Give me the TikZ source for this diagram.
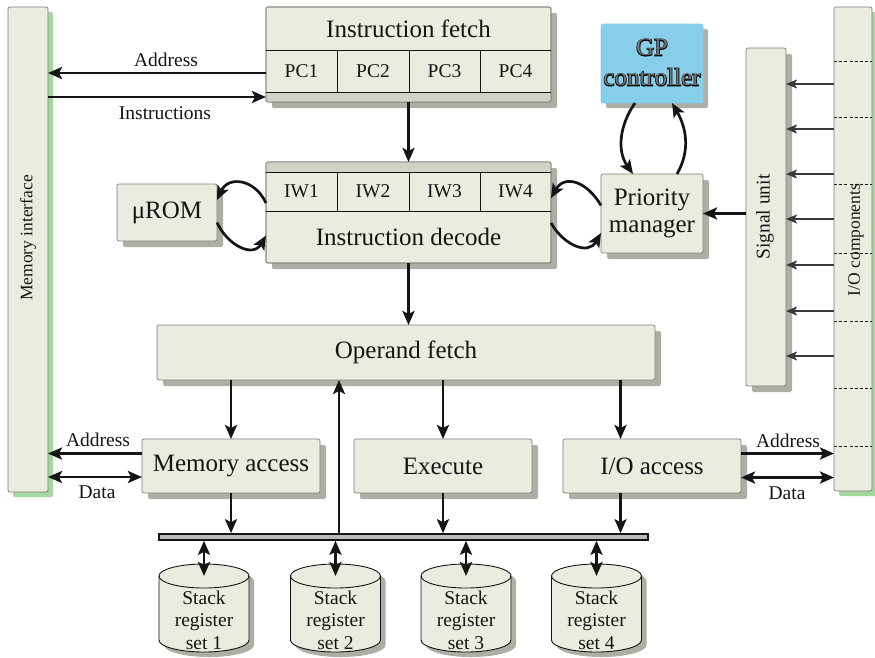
\documentclass[tikz,border=0pt]{standalone}
\usepackage{fontspec}
\setmainfont{Liberation Serif}
\newfontfamily\gpfont[FakeBold=5]{Liberation Serif}
\usetikzlibrary{arrows.meta,shadows,calc}

\definecolor{boxfill}{HTML}{EBEBDF}
\definecolor{boxline}{HTML}{7E7E76}
\definecolor{shadowgrey}{HTML}{AEAEA5}
\definecolor{stripfill}{HTML}{D2D2C8}
\definecolor{gpblue}{HTML}{87CEEB}
\definecolor{edgegreen}{HTML}{A4D89D}
\definecolor{ink}{HTML}{151515}
\definecolor{rulegrey}{HTML}{3A3A3A}

\newcommand\sizeL{\fontsize{25}{28}\selectfont}
\newcommand\sizeM{\fontsize{19.5}{22.5}\selectfont}
\newcommand\sizeS{\fontsize{17.5}{20}\selectfont}

\tikzset{
  panel/.style={draw=boxline, fill=boxfill, line width=0.7pt, rounded corners=2pt,
                inner sep=0pt, outer sep=0pt, text=ink},
  greyshadow/.style={drop shadow={shadow xshift=#1, shadow yshift=-#1, fill=shadowgrey, opacity=1}},
  greyshadow/.default=6pt,
  greenshadow/.style={drop shadow={shadow xshift=5pt, shadow yshift=-5pt, fill=edgegreen, opacity=1}},
  unit/.style={panel, greyshadow, font=\sizeL},
  lbl/.style={text=ink, font=\sizeM, inner sep=0pt},
  cell/.style={draw=ink, line width=1pt},
  arr/.style={draw=ink, line width=2.7pt, -{Stealth[length=14pt, width=12pt, inset=3pt]}},
  dblarr/.style={draw=ink, line width=2.7pt,
    {Stealth[length=14pt, width=12pt, inset=3pt]}-{Stealth[length=14pt, width=12pt, inset=3pt]}},
  sigarr/.style={draw=rulegrey, line width=1.5pt, -{Stealth[length=11pt, width=9pt, inset=2.5pt]}},
  pics/regstack/.style={code={
    \fill[shadowgrey, shift={(5,-5)}] (-45,0) -- (-45,-64)
      arc[start angle=180, end angle=360, x radius=45, y radius=12] -- (45,0)
      arc[start angle=0, end angle=180, x radius=45, y radius=12] -- cycle;
    \filldraw[fill=boxfill, draw=ink, line width=0.9pt] (-45,0) -- (-45,-64)
      arc[start angle=180, end angle=360, x radius=45, y radius=12] -- (45,0)
      arc[start angle=0, end angle=180, x radius=45, y radius=12] -- cycle;
    \draw[ink, line width=0.9pt] (-45,0) arc[start angle=180, end angle=360, x radius=45, y radius=12];
  }},
}

\begin{document}
\begin{tikzpicture}[x=1pt, y=1pt]
\useasboundingbox (0,0) rectangle (875,-657);

% ---------- side panels ----------
\node[panel, greenshadow, minimum width=40pt, minimum height=485pt] (memif) at (28,-249.5) {};
\node[lbl, font=\sizeS, rotate=90] (memlbl) at (28,-238) {Memory interface};

\node[panel, greenshadow, minimum width=38pt, minimum height=484pt] (ioc) at (853,-249) {};
\foreach \yy in {61,117,184,253,321,388,446}
  \draw[ink, line width=0.8pt, dash pattern=on 3pt off 2.2pt] (ioc.west |- 0,-\yy) -- (ioc.east |- 0,-\yy);
\node[lbl, font=\sizeS, rotate=90] (iolbl) at (856,-240) {I/O components};

\node[panel, greyshadow, minimum width=40pt, minimum height=338pt] (sig) at (766,-217) {};
\node[lbl, rotate=90] (siglbl) at (765,-217) {Signal unit};

% ---------- instruction fetch ----------
\node[unit, minimum width=285pt, minimum height=95pt] (ifetch) at (408.5,-54.5) {};
\begin{scope}
  \clip[rounded corners=2pt] (ifetch.south west) rectangle (ifetch.north east);
  \fill[stripfill] (ifetch.south west) rectangle ([yshift=10pt]ifetch.south east);
\end{scope}
\draw[boxline, line width=0.7pt, rounded corners=2pt] (ifetch.south west) rectangle (ifetch.north east);
\draw[cell] ([yshift=-43pt]ifetch.north west) -- ([yshift=-43pt]ifetch.north east);
\draw[cell] ([yshift=10pt]ifetch.south west) -- ([yshift=10pt]ifetch.south east);
\foreach \xx in {337,409,480} \draw[cell] (\xx,-50) -- (\xx,-92);
\node[lbl, font=\sizeL] (iftitle) at (408.5,-29) {Instruction fetch};
\node[lbl] (pc1) at (301.5,-71.5) {PC1};
\node[lbl] (pc2) at (373,-71.5) {PC2};
\node[lbl] (pc3) at (444.5,-71.5) {PC3};
\node[lbl] (pc4) at (515.5,-71.5) {PC4};

% ---------- instruction decode ----------
\node[unit, minimum width=285pt, minimum height=101pt] (idecode) at (408.5,-212.5) {};
\begin{scope}
  \clip[rounded corners=2pt] (idecode.south west) rectangle (idecode.north east);
  \fill[stripfill] (idecode.north west) rectangle ([yshift=-10pt]idecode.north east);
\end{scope}
\draw[boxline, line width=0.7pt, rounded corners=2pt] (idecode.south west) rectangle (idecode.north east);
\draw[cell] ([yshift=-10pt]idecode.north west) -- ([yshift=-10pt]idecode.north east);
\draw[cell] ([yshift=-49pt]idecode.north west) -- ([yshift=-49pt]idecode.north east);
\foreach \xx in {337,409,480} \draw[cell] (\xx,-172) -- (\xx,-211);
\node[lbl] (iw1) at (301.5,-191.5) {IW1};
\node[lbl] (iw2) at (373,-191.5) {IW2};
\node[lbl] (iw3) at (444.5,-191.5) {IW3};
\node[lbl] (iw4) at (515.5,-191.5) {IW4};
\node[lbl, font=\sizeL] (idtitle) at (408.5,-237) {Instruction decode};

% ---------- control units ----------
\node[unit, minimum width=100pt, minimum height=57pt] (urom) at (167,-212.5) {μROM};
\node[unit, minimum width=102pt, minimum height=79pt, align=center,
      font=\fontsize{25}{27.5}\selectfont] (pm) at (652,-213.5) {Priority\\manager};
\node[panel, greyshadow=5pt, fill=gpblue, draw=gpblue, minimum width=102pt, minimum height=79pt] (gp) at (652,-63.5) {};
\node[align=center, text=black, inner sep=0pt, font=\gpfont\fontsize{25}{30}\selectfont] (gptxt) at (652,-62.5) {GP\\controller};
\node[align=center, text=black!55, inner sep=0pt, font=\fontsize{25}{30}\selectfont] (gptxtin) at (652,-62.5) {GP\\controller};

% ---------- execution stages ----------
\node[unit, minimum width=498pt, minimum height=55pt] (opf) at (406,-352.5) {Operand fetch};
\node[unit, minimum width=178pt, minimum height=54pt] (mem) at (231,-466) {Memory access};
\node[unit, minimum width=178pt, minimum height=54pt] (exe) at (443,-466) {Execute};
\node[unit, minimum width=178pt, minimum height=54pt] (ioa) at (652,-466) {I/O access};

% ---------- internal bus and stack register sets ----------
\node[draw=ink, fill=gray!55, line width=1.6pt, minimum width=489pt, minimum height=6pt, inner sep=0pt] (bus) at (403.5,-537) {};
\foreach \i/\cx in {1/204, 2/335.5, 3/466, 4/596.5} {
  \pic (stk\i) at (\cx,-576) {regstack};
  \coordinate (s\i top) at (\cx,-576);
  \node[lbl, align=center] (s\i txt) at (\cx,-620) {Stack\\register\\set \i};
  \draw[dblarr] (bus.south -| s\i top) -- (s\i top);
}

% ---------- pipeline connectors ----------
\draw[arr] (ifetch.south) -- (idecode.north);
\draw[arr] (idecode.south) -- (idecode.south |- opf.north);

\coordinate (ioax) at (620.5,0);
\coordinate (upx) at (339,0);
\draw[arr] (opf.south -| mem.north) -- (mem.north);
\draw[arr] (opf.south -| exe.north) -- (exe.north);
\draw[arr] (opf.south -| ioax) -- (ioa.north -| ioax);
\draw[arr] (mem.south) -- (mem.south |- bus.north);
\draw[arr] (exe.south) -- (exe.south |- bus.north);
\draw[arr] (ioa.south -| ioax) -- (bus.north -| ioax);
\draw[arr] (bus.north -| upx) -- (opf.south -| upx);

% ---------- memory interface traffic ----------
\coordinate (fa) at ([yshift=-18.5pt]ifetch.west);
\coordinate (fi) at ([yshift=-42.5pt]ifetch.west);
\draw[arr] (fa) -- (fa -| memif.east);
\draw[arr] (fi -| memif.east) -- (fi);
\node[lbl] (faL) at (166,-60) {Address};
\node[lbl] (fiL) at (165,-113) {Instructions};

\coordinate (ma) at ([yshift=12.5pt]mem.west);
\coordinate (md) at ([yshift=-11pt]mem.west);
\draw[arr] (ma) -- (ma -| memif.east);
\draw[dblarr] (md) -- (md -| memif.east);
\node[lbl] (maL) at (98,-440) {Address};
\node[lbl] (mdL) at (97,-492) {Data};

\coordinate (ia) at ([yshift=12.5pt]ioa.east);
\coordinate (id) at ([yshift=-11.5pt]ioa.east);
\draw[arr] (ia) -- (ia -| ioc.west);
\draw[dblarr] (id) -- (id -| ioc.west);
\node[lbl] (iaL) at (788,-441) {Address};
\node[lbl] (idL) at (787,-493) {Data};

% ---------- signal unit and priority handling ----------
\foreach \yy in {84,129,174,219,265,311,356}
  \draw[sigarr] (ioc.west |- 0,-\yy) -- (sig.east |- 0,-\yy);
\draw[arr] (sig.west |- pm.east) -- (pm.east);

\draw[arr] ([xshift=-17pt]gp.south) to[out=-125, in=125] ([xshift=-19pt]pm.north);
\draw[arr] ([xshift=25pt]pm.north) to[out=60, in=-60] ([xshift=20pt]gp.south);

\draw[arr] ([yshift=9.5pt]idecode.west) to[out=115, in=65, looseness=1.4] ([yshift=12.5pt]urom.east);
\draw[arr] ([yshift=-10pt]urom.east) to[out=-65, in=-120, looseness=1.3] ([yshift=-23pt]idecode.west);
\draw[arr] ([yshift=8pt]pm.west) to[out=120, in=60, looseness=1.4] ([yshift=14.5pt]idecode.east);
\draw[arr] ([yshift=-10.5pt]idecode.east) to[out=-60, in=-120, looseness=1.3] ([yshift=-19.5pt]pm.west);
\end{tikzpicture}
\end{document}
